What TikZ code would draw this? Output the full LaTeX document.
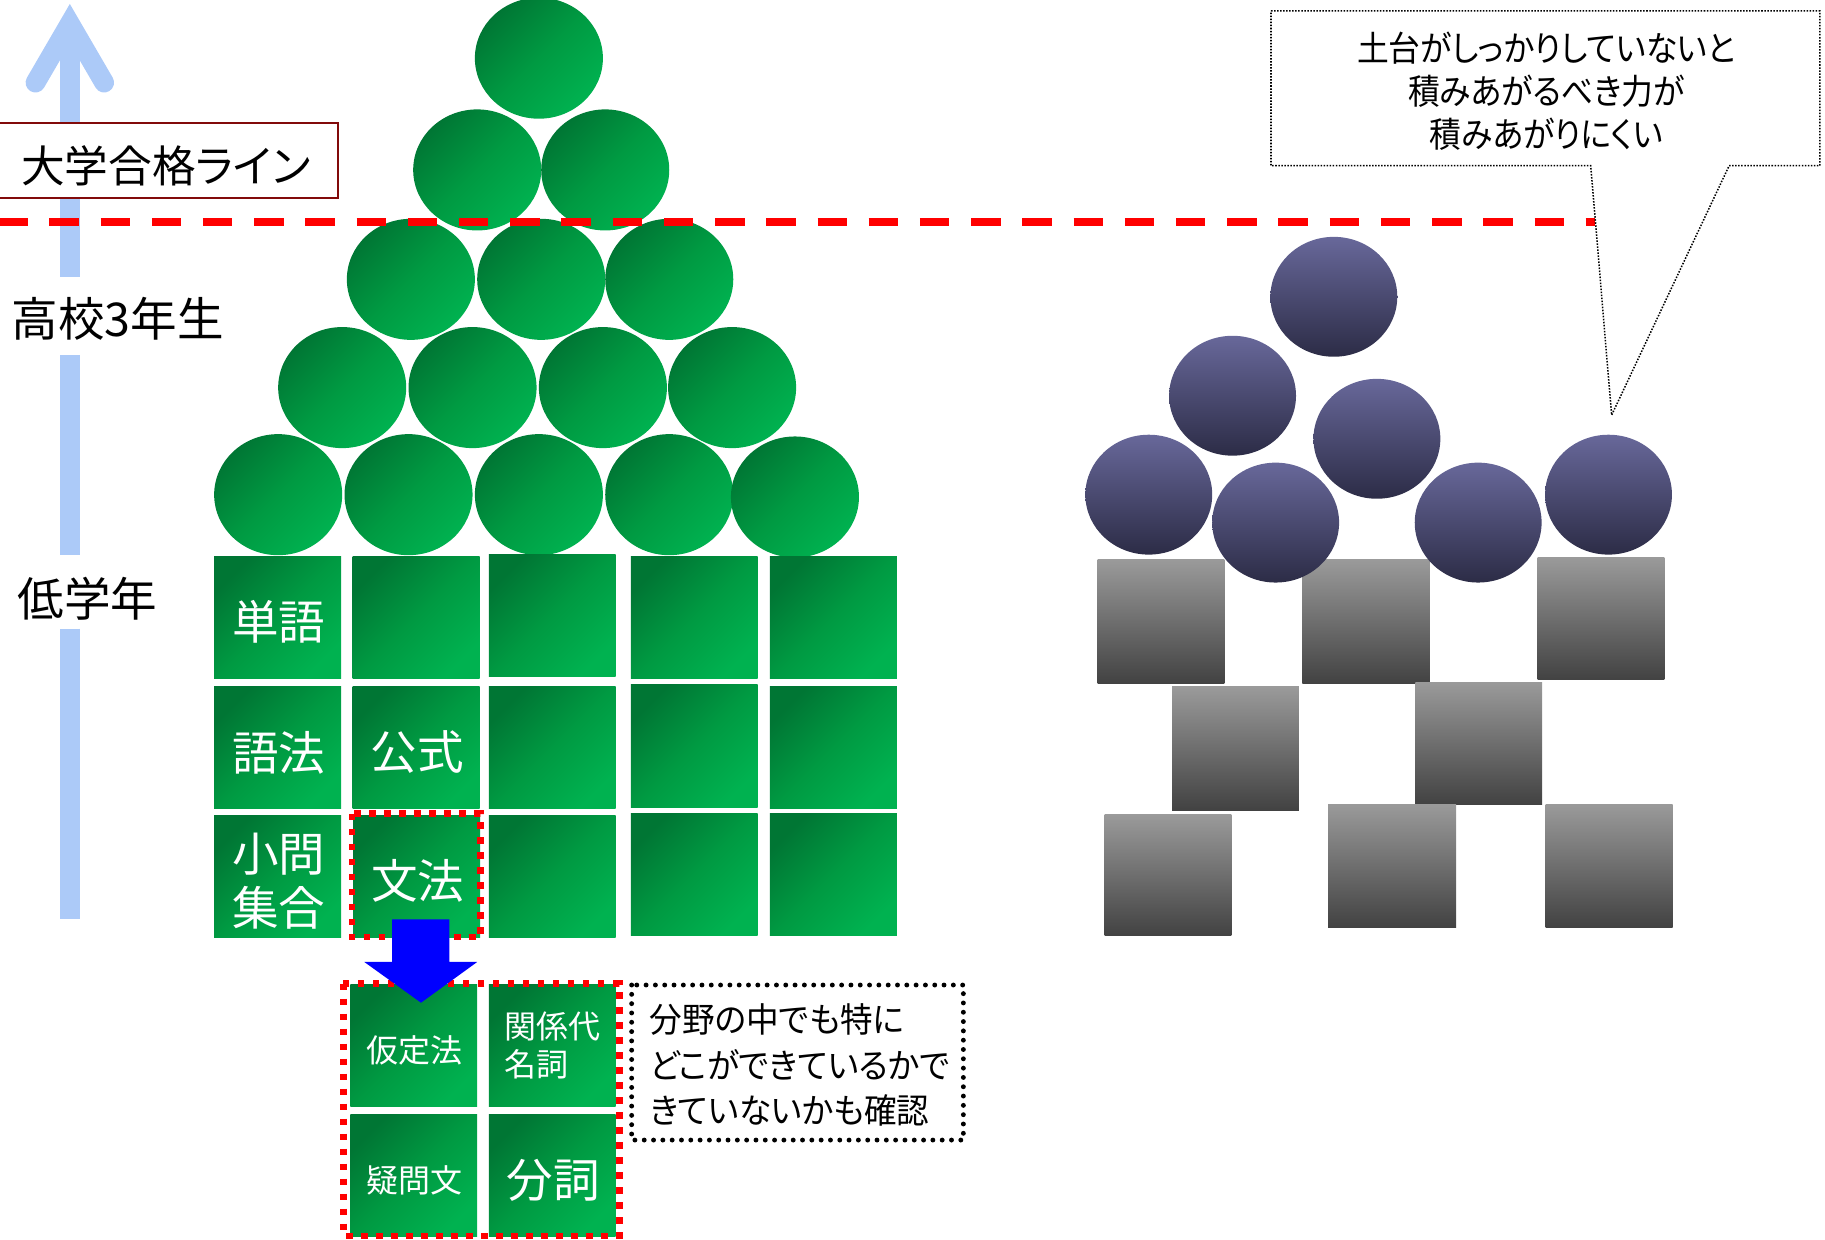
\documentclass[tikz,border=0pt]{standalone}
\usepackage{fontspec}
\setmainfont{Noto Sans CJK JP}[RawFeature=+palt]
\newfontfamily\jpnarrow{Noto Sans CJK JP}[RawFeature=+palt, FakeStretch=0.91]
\newfontfamily\jpslight{Noto Sans CJK JP}[RawFeature=+palt, FakeStretch=0.95]
\newcommand\sqlower[1]{\raisebox{-4pt}[\height][\depth]{\hspace*{2pt}#1}}
\definecolor{gdark}{RGB}{0,118,52}
\definecolor{gmid}{RGB}{0,154,66}
\definecolor{glight}{RGB}{0,178,80}
\definecolor{pltop}{RGB}{104,104,154}
\definecolor{plbot}{RGB}{44,44,70}
\definecolor{grtop}{RGB}{154,154,154}
\definecolor{grbot}{RGB}{66,66,66}
\definecolor{axisblue}{RGB}{172,202,248}
\definecolor{boxred}{RGB}{130,10,10}
\definecolor{arrowblue}{RGB}{0,0,255}
\tikzset{
  gsq/.style={rectangle, minimum width=109pt, minimum height=105pt, inner sep=0pt, outer sep=0pt,
    top color=gdark, bottom color=glight, middle color=gmid, shading angle=45, text=white, align=center,
    font=\fontsize{40}{47}\selectfont},
  gsmall/.style={gsq, font=\fontsize{27.5}{33}\selectfont},
  gcirc/.style={top color=gdark, bottom color=glight, middle color=gmid, shading angle=45},
  pcirc/.style={top color=pltop, bottom color=plbot},
  gray box/.style={top color=grtop, bottom color=grbot},
  reddots/.style={draw=red, line width=5.7pt, dash pattern=on 5.7pt off 7.2pt},
  blackdots/.style={draw=black, line width=4.2pt, dash pattern=on 0pt off 8pt, line cap=round},
  finedots/.style={draw=black, line width=1.3pt, dash pattern=on 1.3pt off 1.3pt},
  sidelabel/.style={font=\fontsize{40}{46}\selectfont, inner sep=0pt},
  stem/.style={draw=axisblue, line width=17pt}
}
\begin{document}
\begin{tikzpicture}[x=1pt,y=-1pt]
\useasboundingbox (0,0) rectangle (1568,1065);
\clip (0,0) rectangle (1568,1065);

% ---- vertical axis arrow ----
\draw[stem] (60,25) -- (60,238);
\draw[stem] (60,305) -- (60,477);
\draw[stem] (60,540) -- (60,790);
\draw[stem, line join=miter, line cap=round] (30.5,71) -- (60,20.3) -- (89.5,71);

\draw[draw=boxred, fill=white, line width=1.7pt] (-5,106) rectangle (290.5,170.4);
\node[font=\fontsize{37.5}{44}\selectfont, inner sep=0pt] (pass) at (142.6,142.5) {大学合格ライン};
\node[sidelabel] (senior) at (101,274) {高校3年生};
\node[sidelabel] (junior) at (75,514) {低学年};

% ---- green balls ----
\foreach \x/\y in {239/425, 351/425, 463/425, 575/425, 683/427,
                   294/333, 406/333, 518/333, 629/333,
                   353/240, 465/240, 575/240,
                   410/146, 520/146,
                   463/50}
  \shade[gcirc] (\x,\y) ellipse [x radius=55, y radius=52];

% ---- green blocks ----
\node[gsq] (w1) at (238.5,530.5) {\sqlower{単語}};
\node[gsq] (w2) at (357.5,530.5) {};
\node[gsq] (w3) at (474.5,528.5) {};
\node[gsq] (w4) at (596.5,530.5) {};
\node[gsq] (w5) at (716,530.5) {};
\node[gsq] (u1) at (238.5,642.5) {\sqlower{語法}};
\node[gsq] (u2) at (357.5,642.5) {\sqlower{公式}};
\node[gsq] (u3) at (474.5,642.5) {};
\node[gsq] (u4) at (596.5,641) {};
\node[gsq] (u5) at (716,642.5) {};
\node[gsq] (q1) at (238.5,753) {\sqlower{小問}\\\sqlower{集合}};
\node[gsq] (q2) at (358,753) {\sqlower{文法}};
\node[gsq] (q3) at (474.5,753) {};
\node[gsq] (q4) at (596.5,751.5) {};
\node[gsq] (q5) at (716,751.5) {};

\draw[reddots] (302.5,699) rectangle (413,805);

% ---- detail group ----
\node[gsmall] (k1) at (355.5,898.2) {\sqlower{仮定法}};
\node[gsmall, align=left] (k2) at (474.5,898.2) {関係代\\名詞};
\node[gsmall] (k3) at (355.5,1010) {\sqlower{疑問文}};
\node[gsq] (k4) at (474.5,1010) {\sqlower{分詞}};
\draw[reddots] (295,845) rectangle (532,1062);

\coordinate (arrtop) at (361.5,790);
\fill[arrowblue] (337,790) -- (386,790) -- (386,826.5) -- (410,826.5) -- (361.7,861.5)
  -- (313,826.5) -- (337,826.5) -- cycle;

\draw[blackdots] (542.7,846.3) rectangle (827.7,979.5);
\node[font=\jpslight\fontsize{29.5}{39}\selectfont, align=left, anchor=west, inner sep=0pt] (detail) at (558,915)
  {分野の中でも特に\\どこができているかで\\きていないかも確認};

% ---- gray blocks and purple balls ----
\foreach \a/\b/\c/\d in {943/481/1052/587, 1119/481/1228/587, 1321/479/1430/584,
                         1007/590/1116/696, 1216/586/1325/691,
                         949/700/1058/804, 1141/691/1251/797, 1328/691/1437/797}
  \shade[gray box] (\a,\b) rectangle (\c,\d);
\foreach \x/\y in {1146/255, 1059/340, 1183/377, 987/425, 1096/449, 1270/449, 1382/425}
  \shade[pcirc] (\x,\y) ellipse [x radius=54.5, y radius=51.5];

% ---- pass line ----
\draw[red, line width=6.6pt, dash pattern=on 25.3pt off 18.7pt] (-1.6,190.8) -- (1370.5,190.8);

% ---- callout ----
\draw[finedots] (1092,9.3) -- (1563.5,9.3) -- (1563.5,142.4) -- (1485.6,142.4) -- (1384.7,356.6)
  -- (1366.7,142.4) -- (1092,142.4) -- cycle;
\node[font=\jpnarrow\fontsize{30}{37}\selectfont, align=center, inner sep=0pt] (note) at (1328.5,78)
  {土台がしっかりしていないと\\積みあがるべき力が\\積みあがりにくい};
\end{tikzpicture}
\end{document}
